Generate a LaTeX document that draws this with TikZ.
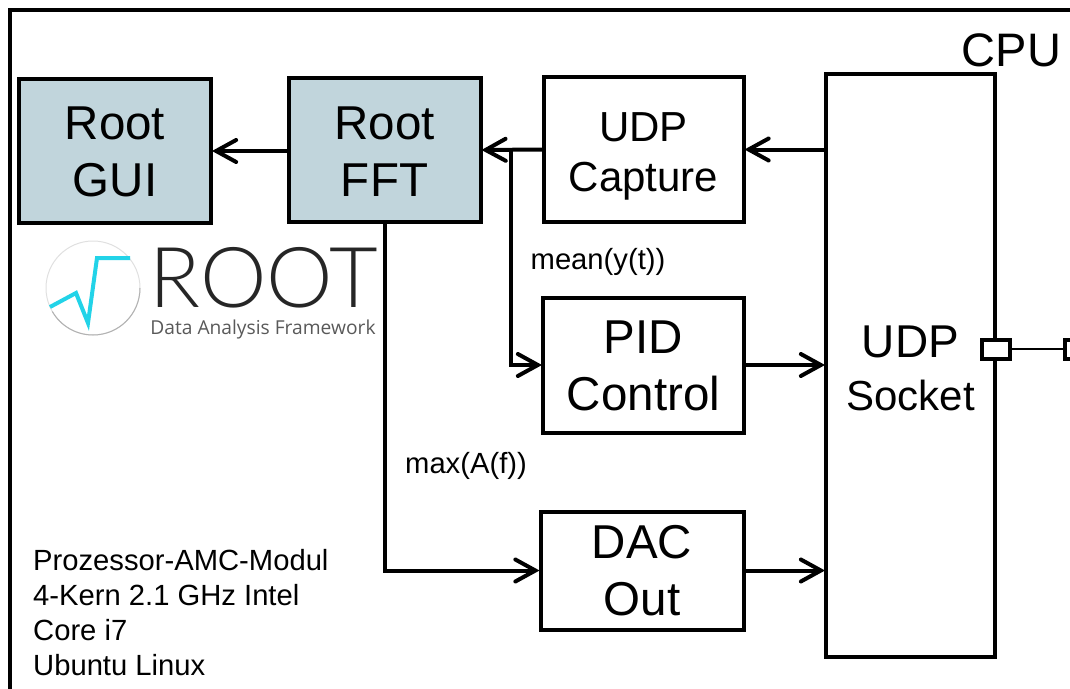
\documentclass[tikz,border=0pt]{standalone}
\usepackage{fontspec}
\usepackage{tikz}
\usetikzlibrary{arrows.meta}
\setmainfont{Liberation Sans}
\newfontfamily\logofont{Lato Light}
\newfontfamily\logosubfont{Open Sans}
\definecolor{rootfill}{HTML}{C1D5DC}
\definecolor{logocyan}{HTML}{22D3E8}
\newcommand{\firstline}[1]{\rule{0pt}{#1pt}}
\tikzset{
    block/.style={draw,line width=4pt,outer sep=1pt,align=center,inner sep=0pt,font=\fontsize{47.5}{57}\selectfont},
    rootblock/.style={block,fill=rootfill},
    port/.style={draw,line width=4pt,fill=white,minimum width=28pt,minimum height=19pt},
    small/.style={font=\fontsize{29.2}{35}\selectfont},
    wire/.style={line width=4pt,-{Straight Barb[length=20pt,width=22pt,line cap=round]}}
}

\begin{document}
\begin{tikzpicture}[x=1pt,y=-1pt]
    \useasboundingbox (0,0) rectangle (1070,688);
    \clip (0,0) rectangle (1070,688);
    \draw[line width=4pt] (10,10) rectangle (1120,720);

    \node[rootblock,minimum width=192pt,minimum height=144pt] (gui) at (115,151) {\firstline{34}Root\\GUI};
    \node[rootblock,minimum width=192pt,minimum height=144pt] (fft) at (384.5,150) {\firstline{36}Root\\FFT};
    \node[block,minimum width=200pt,minimum height=145pt,font=\fontsize{42}{50}\selectfont] (capture) at (643.5,149.5)
        {\firstline{42}UDP\\Capture};
    \node[block,minimum width=201pt,minimum height=135pt] (pid) at (643.5,365) {\firstline{34}PID\\Control};
    \node[block,minimum width=203pt,minimum height=118pt] (dac) at (642,570.5) {\firstline{33}DAC\\Out};
    \node[draw,line width=4pt,outer sep=1pt,minimum width=169pt,minimum height=583pt] (socket) at (910.5,365) {};
    \node (socketlabel) at (910.5,369) [align=center,font=\fontsize{46}{54}\selectfont]
        {UDP\\\raisebox{1pt}{\fontsize{42}{54}\selectfont Socket}};
    \node[port] (hostport) at (995.5,349) {};
    \node[port] (peerport) at (1079,349) {};
    \draw[line width=2pt] (hostport) -- (peerport);
    \node[font=\fontsize{47}{47}\selectfont] (cpu) at (1011.5,50) {CPU};

    \coordinate (tap) at (511,150);
    \draw[wire] (fft.west |- gui.east) -- (gui.east);
    \draw[wire] (capture.west) -- (fft.east);
    \draw[wire] (socket.west |- capture.east) -- (capture.east);
    \draw[wire] (tap) |- (pid.west);
    \draw[wire] (pid.east) -- (pid.east -| socket.west);
    \draw[wire] (dac.east) -- (dac.east -| socket.west);
    \draw[wire] (fft.south) |- (dac.west);

    \node[small] (meanlabel) at (598,262) {mean(y(t))};
    \node[small] (maxlabel) at (466,466) {max(A(f))};
    \node[small,anchor=north west,align=left,inner sep=0pt] (specs) at (33,549)
        {Prozessor-AMC-Modul\\4-Kern 2.1 GHz Intel\\Core i7\\Ubuntu Linux};

    % logo
    \draw[draw=black!12,line width=1pt,fill=white] (93,288) circle (47pt);
    \draw[draw=black!30,line width=1pt] (140,288) arc[start angle=0,end angle=-150,radius=47pt];
    \draw[logocyan,line width=4pt] (50,307) -- (76,293) -- (88,323) -- (97,258) -- (130,258);
    \node[inner sep=0pt,anchor=base,text=black!85] (logoname) at (264,307)
        {\fontsize{84}{86}\selectfont\logofont ROOT};
    \node[inner sep=0pt,anchor=base,text=black!65] (logosub) at (263,334)
        {\fontsize{19.2}{20}\selectfont\logosubfont Data Analysis Framework};
\end{tikzpicture}
\end{document}
